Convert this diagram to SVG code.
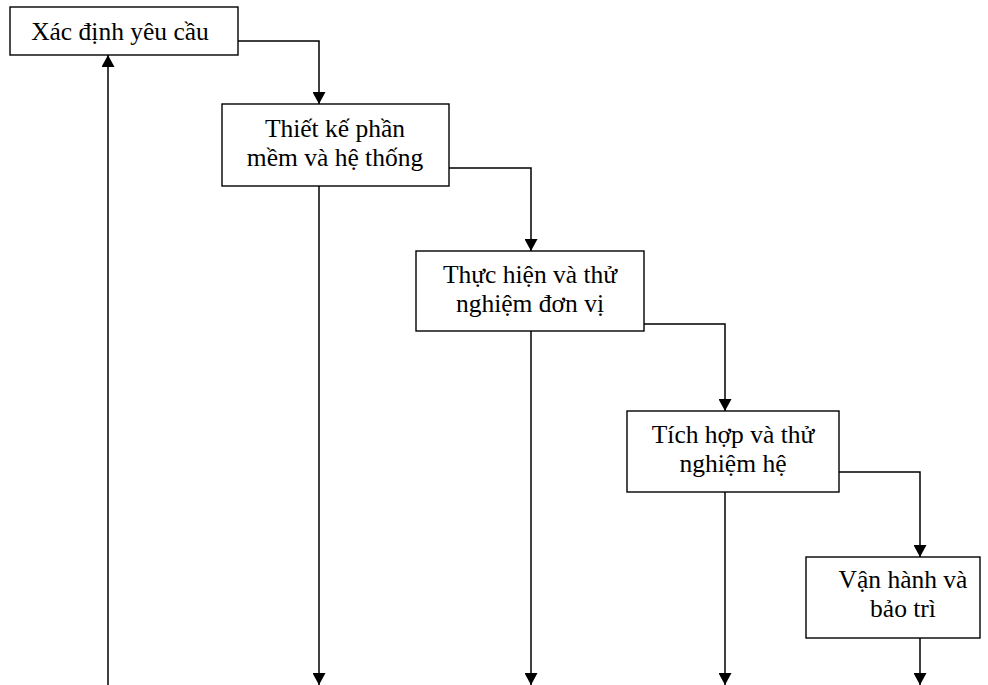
<svg xmlns="http://www.w3.org/2000/svg" width="988" height="685" viewBox="0 0 988 685">
<style>
.box{fill:#fff;stroke:#000;stroke-width:1.4}
.t{font-family:"Liberation Serif","Times New Roman",serif;font-size:25.5px;fill:#000;text-anchor:middle}
.c{fill:none;stroke:#000;stroke-width:1.5}
</style>
<defs>
<marker id="ah" viewBox="0 0 12 13" refX="12" refY="6.5" markerWidth="12" markerHeight="13" markerUnits="userSpaceOnUse" orient="auto">
<path d="M0,0 L12,6.5 L0,13 Z" fill="#000"/>
</marker>
</defs>
<rect width="988" height="685" fill="#fff"/>
<g id="connectors">
<path class="c" d="M238,41 H319 V104" marker-end="url(#ah)"/>
<path class="c" d="M449,168 H531 V251" marker-end="url(#ah)"/>
<path class="c" d="M644,324 H725 V411" marker-end="url(#ah)"/>
<path class="c" d="M839,472 H920 V557" marker-end="url(#ah)"/>
<path class="c" d="M108,685 V55" marker-end="url(#ah)"/>
<path class="c" d="M319,186 V685" marker-end="url(#ah)"/>
<path class="c" d="M531,331 V685" marker-end="url(#ah)"/>
<path class="c" d="M725,492 V685" marker-end="url(#ah)"/>
<path class="c" d="M920,638 V685" marker-end="url(#ah)"/>
</g>
<g id="n1">
<rect class="box" x="10" y="7" width="228" height="48"/>
<text class="t" x="120" y="40">Xác định yêu cầu</text>
</g>
<g id="n2">
<rect class="box" x="222" y="104" width="227" height="82"/>
<text class="t" x="335" y="137">Thiết kế phần</text>
<text class="t" x="335" y="166">mềm và hệ thống</text>
</g>
<g id="n3">
<rect class="box" x="416" y="251" width="228" height="80"/>
<text class="t" x="530" y="283">Thực hiện và thử</text>
<text class="t" x="530" y="312">nghiệm đơn vị</text>
</g>
<g id="n4">
<rect class="box" x="627" y="411" width="212" height="81"/>
<text class="t" x="733" y="443">Tích hợp và thử</text>
<text class="t" x="733" y="472">nghiệm hệ</text>
</g>
<g id="n5">
<rect class="box" x="806" y="557" width="174" height="81"/>
<text class="t" x="903" y="588">Vận hành và</text>
<text class="t" x="903" y="617">bảo trì</text>
</g>
</svg>
